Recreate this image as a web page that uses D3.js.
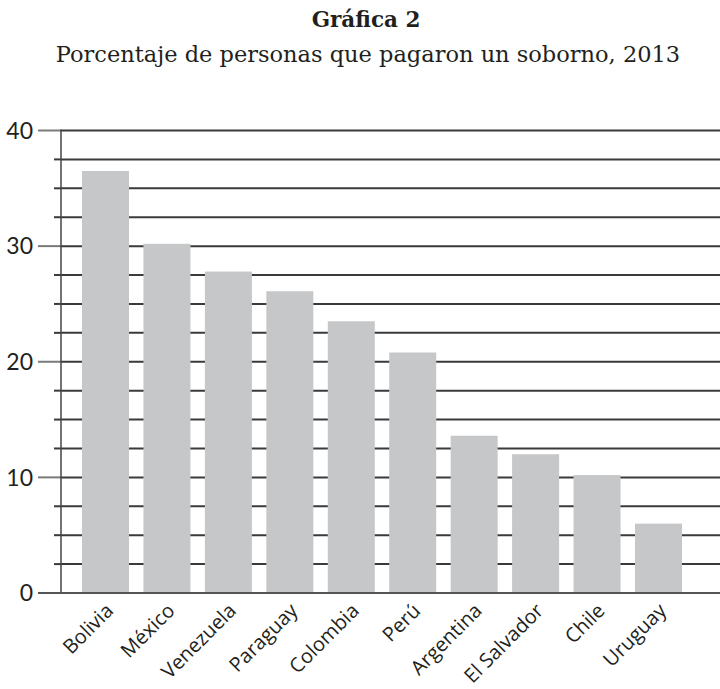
<!DOCTYPE html>
<html>
<head>
<meta charset="utf-8">
<script src="https://cdn.jsdelivr.net/npm/d3@7"></script>
<style>
  body { margin: 0; background: #fff; }
</style>
</head>
<body>
<script>
// data
var paises = ["Bolivia", "México", "Venezuela", "Paraguay", "Colombia", "Perú", "Argentina", "El Salvador", "Chile", "Uruguay"];
var porcentajes = [36.5, 30.2, 27.8, 26.1, 23.5, 20.8, 13.6, 12.0, 10.2, 6.0];
var ticksMayores = [0, 10, 20, 30, 40];
var lineasGuia = [2.5, 5, 7.5, 10, 12.5, 15, 17.5, 20, 22.5, 25, 27.5, 30, 32.5, 35, 37.5, 40];

var titulo = "Gráfica 2";
var subtitulo = "Porcentaje de personas que pagaron un soborno, 2013";

var width = 720, height = 689;
var gris = "#c6c7c9";
var lineaOscura = "#3a3a3a";

var svg = d3.select("body")
    .append("svg")
    .attr("width", width)
    .attr("height", height);

// titles
svg.append("text")
    .attr("x", 366)
    .attr("y", 27)
    .attr("text-anchor", "middle")
    .style("font-family", "'DejaVu Serif', serif")
    .style("font-weight", "bold")
    .style("font-size", "21.5px")
    .style("fill", "#231f20")
    .text(titulo);

svg.append("text")
    .attr("x", 368)
    .attr("y", 62)
    .attr("text-anchor", "middle")
    .style("font-family", "'DejaVu Serif', serif")
    .style("font-size", "22.5px")
    .style("fill", "#231f20")
    .text(subtitulo);

// scales
var y = d3.scaleLinear()
    .domain([0, 40])
    .range([593, 130.5]);

var x = d3.scaleBand()
    .domain(paises)
    .range([61, 703])
    .paddingInner(0.235)
    .paddingOuter(0.342);

// tick marks left of the axis
svg.selectAll("line.guia")
    .data(lineasGuia)
    .enter()
    .append("line")
    .attr("class", "guia")
    .attr("x1", function (d) { return ticksMayores.indexOf(d) >= 0 ? 38 : 54; })
    .attr("x2", 61)
    .attr("y1", function (d) { return y(d); })
    .attr("y2", function (d) { return y(d); })
    .style("stroke", function (d) { return ticksMayores.indexOf(d) >= 0 ? "#7a7a7a" : lineaOscura; })
    .style("stroke-width", 2);

// horizontal grid
svg.selectAll("line.grid")
    .data(lineasGuia)
    .enter()
    .append("line")
    .attr("class", "grid")
    .attr("x1", 61)
    .attr("x2", width)
    .attr("y1", function (d) { return y(d); })
    .attr("y2", function (d) { return y(d); })
    .style("stroke", lineaOscura)
    .style("stroke-width", 2);

// bars
svg.selectAll("rect.barra")
    .data(porcentajes)
    .enter()
    .append("rect")
    .attr("class", "barra")
    .attr("x", function (d, i) { return x(paises[i]); })
    .attr("y", function (d) { return y(d); })
    .attr("width", x.bandwidth())
    .attr("height", function (d) { return y(0) - y(d); })
    .style("fill", gris);

// axis lines
svg.append("line")
    .attr("x1", 61).attr("x2", 61)
    .attr("y1", y(40) - 1).attr("y2", y(0))
    .style("stroke", "#444")
    .style("stroke-width", 1.5);

svg.append("line")
    .attr("x1", 38).attr("x2", width)
    .attr("y1", y(0)).attr("y2", y(0))
    .style("stroke", "#555")
    .style("stroke-width", 2);

// y labels
svg.selectAll("text.ylab")
    .data(ticksMayores)
    .enter()
    .append("text")
    .attr("class", "ylab")
    .attr("x", 33)
    .attr("y", function (d) { return y(d); })
    .attr("dy", "0.36em")
    .attr("text-anchor", "end")
    .style("font-family", "Lato, sans-serif")
    .style("font-size", "23px")
    .style("fill", "#231f20")
    .text(function (d) { return d; });

// x labels, rotated
svg.selectAll("text.xlab")
    .data(paises)
    .enter()
    .append("text")
    .attr("class", "xlab")
    .attr("text-anchor", "end")
    .attr("transform", function (d) {
        var cx = x(d) + x.bandwidth() / 2 + 9;
        return "translate(" + cx + ",612) rotate(-45)";
    })
    .style("font-family", "'Open Sans', sans-serif")
    .style("font-size", "20px")
    .style("fill", "#231f20")
    .text(function (d) { return d; });
</script>
</body>
</html>
